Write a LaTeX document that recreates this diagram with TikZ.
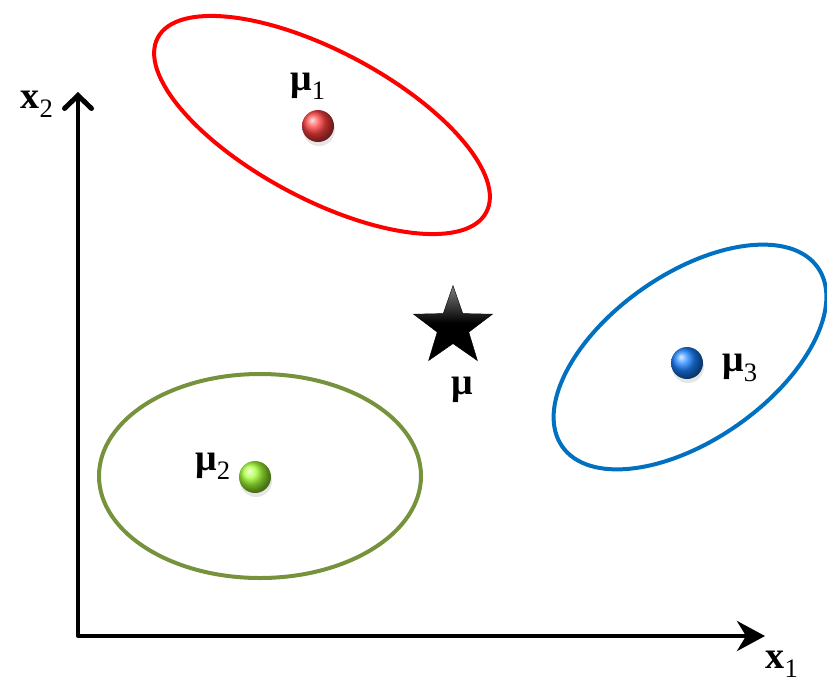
\documentclass[tikz,border=0pt]{standalone}
\usepackage{amsmath}
\usepackage{fontspec}
\setmainfont{Liberation Serif}
\usetikzlibrary{arrows.meta,shapes.geometric,shadows,positioning}
\definecolor{clred}{RGB}{255,0,0}
\definecolor{clgreen}{RGB}{118,146,60}
\definecolor{clblue}{RGB}{0,112,192}

\begin{document}
\begin{tikzpicture}[x=1pt, y=-1pt, every node/.style={font=\fontsize{38}{42}\selectfont\bfseries},
  clust/.style={line width=4pt},
  mean/.style={circle, minimum size=32pt, inner sep=0pt, shading=ball,
    drop shadow={shadow xshift=1pt, shadow yshift=-4pt, opacity=0.2}}]
  \useasboundingbox (0,0) rectangle (827,694);
  \coordinate (o) at (78,636);
  \coordinate (xend) at (765,636);
  \coordinate (yend) at (78,92);
  \draw[line width=4pt, -{Stealth[length=28pt, width=30pt, inset=9pt]}] (o) -- (xend);
  \draw[line width=4pt, line cap=round, -{Straight Barb[length=13pt, width=27pt, line width=5pt, line cap=round]}] (o) -- (yend);
  \node (lx1) at (782,664) {$\text{x}_{\text{\mdseries 1}}$};
  \node (lx2) at (37,104) {$\text{x}_{\text{\mdseries 2}}$};
  \draw[clust, clred, rotate around={-28:(322,125)}] (322,125) ellipse [x radius=186pt, y radius=74pt];
  \draw[clust, clgreen] (260,476) ellipse [x radius=161pt, y radius=102pt];
  \draw[clust, clblue, rotate around={35:(690,357)}] (690,357) ellipse [x radius=156pt, y radius=83pt];
  \node[mean, ball color=red!75!white] (m1) at (318,126) {};
  \node[mean, ball color=yellow!55!green!80!white] (m2) at (255,477) {};
  \node[mean, ball color=blue!55!cyan!90!white] (m3) at (687,363) {};
  \node[star, star points=5, star point ratio=2.5, minimum size=83pt, inner sep=0pt,
    top color=black!50, bottom color=black, middle color=black, draw=black] (mu) at (453,327) {};
  \node (l1) at (308,86) {$\text{μ}_{\text{\mdseries 1}}$};
  \node (l2) at (213,466) {$\text{μ}_{\text{\mdseries 2}}$};
  \node (l3) at (740,368) {$\text{μ}_{\text{\mdseries 3}}$};
  \node (l0) at (462,390) {μ};
\end{tikzpicture}
\end{document}
